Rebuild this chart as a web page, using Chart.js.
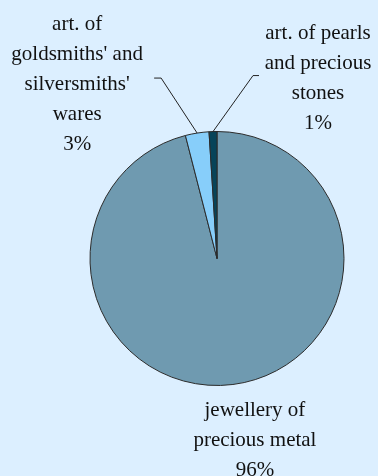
<!DOCTYPE html>
<html>
<head>
<meta charset="utf-8">
<script src="https://cdn.jsdelivr.net/npm/chart.js@4/dist/chart.umd.min.js"></script>
<style>
  html, body { margin: 0; padding: 0; background: #dcefff; }
  #wrap { width: 378px; height: 476px; position: relative; }
</style>
</head>
<body>
<div id="wrap"><canvas id="c" width="378" height="476"></canvas></div>
<script>
// Shares of the three product groups (per cent)
const categories = [
  ["jewellery of", "precious metal"],
  ["art. of", "goldsmiths' and", "silversmiths'", "wares"],
  ["art. of pearls", "and precious", "stones"]
];
const shares = [96, 3, 1];
const sliceColors = ["#6f9ab0", "#87cefa", "#074459"];

// Label placement for each slice: text centre offset relative to the
// slice's outer-edge midpoint, and whether a leader line is drawn.
const labelLayout = [
  { dx: 22, dy: 26, leader: false },
  { dx: -120, dy: -109, leader: true, elbow: [-36, -55], tick: -7 },
  { dx: 105, dy: -98, leader: true, elbow: [40, -56], tick: 6 }
];

const FONT = '21px "Liberation Serif", "Times New Roman", serif';

const labelPlugin = {
  id: 'sliceLabels',
  afterDatasetsDraw(chart) {
    const ctx = chart.ctx;
    const arcs = chart.getDatasetMeta(0).data;
    ctx.save();
    ctx.font = FONT;
    ctx.fillStyle = '#111';
    ctx.textAlign = 'center';
    ctx.textBaseline = 'middle';
    const lineH = 30;
    arcs.forEach((arc, i) => {
      const p = arc.getProps(['x', 'y', 'startAngle', 'endAngle', 'outerRadius'], true);
      const mid = (p.startAngle + p.endAngle) / 2;
      const ex = p.x + Math.cos(mid) * p.outerRadius;
      const ey = p.y + Math.sin(mid) * p.outerRadius;
      const L = labelLayout[i];
      if (L.leader) {
        const kx = ex + L.elbow[0], ky = ey + L.elbow[1];
        ctx.beginPath();
        ctx.strokeStyle = '#222';
        ctx.lineWidth = 1;
        ctx.moveTo(ex, ey);
        ctx.lineTo(kx, ky);
        ctx.lineTo(kx + L.tick, ky);
        ctx.stroke();
      }
      const lines = categories[i].concat([shares[i] + '%']);
      const cx = ex + L.dx;
      const cy0 = ey + L.dy;
      lines.forEach((t, k) => ctx.fillText(t, cx, cy0 + k * lineH));
    });
    ctx.restore();
  }
};

new Chart(document.getElementById('c'), {
  type: 'pie',
  data: {
    labels: categories.map(c => c.join(' ')),
    datasets: [{
      data: shares,
      backgroundColor: sliceColors,
      borderColor: '#2b2b2b',
      borderWidth: 1
    }]
  },
  options: {
    responsive: false,
    animation: false,
    rotation: 0,
    radius: 127,
    layout: { padding: { left: 90, right: 34, top: 131, bottom: 90 } },
    plugins: {
      legend: { display: false },
      tooltip: { enabled: false }
    }
  },
  plugins: [labelPlugin]
});
</script>
</body>
</html>
